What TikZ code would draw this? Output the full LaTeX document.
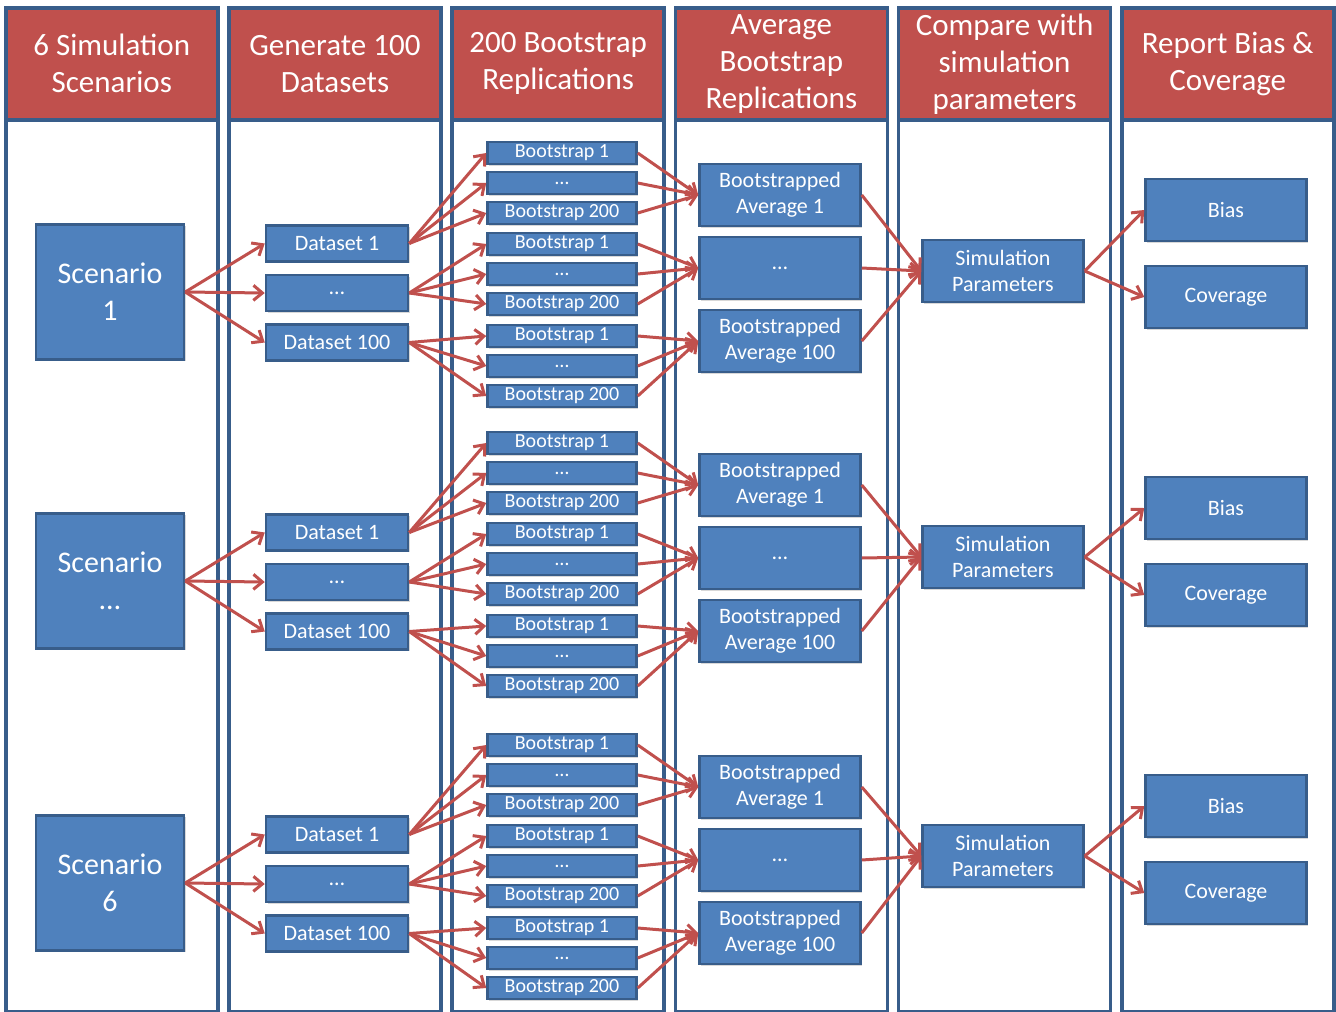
\documentclass[tikz,border=0pt]{standalone}
\usepackage{fontspec}
\setmainfont{Carlito}
\usetikzlibrary{arrows.meta, shadows}
\definecolor{hdred}{HTML}{C0504D}
\definecolor{boxblue}{HTML}{4F81BD}
\definecolor{edgeblue}{HTML}{385D8A}

\tikzset{
  blue box/.style = {draw = edgeblue, line width = 2.5pt, fill = boxblue,
    drop shadow = {shadow xshift = 1.5pt, shadow yshift = -1.5pt, opacity = 0.3}},
  scen/.style = {blue box, minimum width = 148pt, minimum height = 135pt, font = \fontsize{30}{37}\selectfont},
  data/.style = {blue box, minimum width = 142pt, minimum height = 36pt, font = \fontsize{22}{26}\selectfont},
  boot/.style = {blue box, minimum width = 149pt, minimum height = 22pt, font = \fontsize{20}{22}\selectfont},
  avg/.style = {blue box, minimum width = 161pt, minimum height = 62pt, font = \fontsize{22}{26}\selectfont},
  res/.style = {avg},
  conn/.style = {draw = hdred, line width = 3pt, -{Straight Barb[length = 9pt, width = 15pt]}}
}

\begin{document}
\begin{tikzpicture}[x = 1pt, y = -1pt, every node/.style = {text = white, align = center, inner sep = 0pt},
    colhead/.style = {draw = edgeblue, line width = 3.5pt, fill = hdred, anchor = north west,
      minimum width = 212pt, minimum height = 112pt, font = \fontsize{31}{37}\selectfont},
    colbody/.style = {draw = edgeblue, line width = 3.5pt, fill = white, anchor = north west,
      minimum width = 212pt, minimum height = 893pt}]
  \useasboundingbox (0, 0) rectangle (1336, 1012);
  % the six columns
  \foreach \i/\txt in {0/6 Simulation\\Scenarios, 1/Generate 100\\Datasets, 2/200 Bootstrap\\Replications,
      3/Average\\Bootstrap\\Replications, 4/Compare with\\simulation\\parameters, 5/Report Bias \&\\Coverage} {
    \node[colbody] (body\i) at ({4 + 223.2*\i}, 117) {};
    \node[colhead] (head\i) at ({4 + 223.2*\i}, 6) {\txt};
  }
  % one block per scenario
  \foreach \g/\sl/\ys/\yb/\ysim/\ybias in {1/1/292/152/271/210, 2/…/581/442/557/508, 3/6/883/744/856/806} {
    \node[scen] (sc\g) at (110, \ys) {Scenario\\\sl};
    \foreach \t/\dl in {1/Dataset 1, 2/…, 3/Dataset 100}
      \node[data] (ds\g-\t) at (337, {\ys + 49.5*(\t - 2) + 1}) {\dl};
    \foreach \t/\off in {1/0, 2/91, 3/183}
      \foreach \k/\bl in {1/Bootstrap 1, 2/…, 3/Bootstrap 200}
        \node[boot] (bt\g-\t-\k) at (562, {\yb + \off + 30*(\k - 1) + 1}) {\bl};
    \foreach \t/\al in {1/Bootstrapped\\Average 1, 2/…, 3/Bootstrapped\\Average 100}
      \node[avg] (av\g-\t) at (780, {\yb + 43 + 73*(\t - 1)}) {\al};
    \node[avg] (sp\g) at (1003, \ysim) {Simulation\\Parameters};
    \node[res] (bi\g) at (1226, \ybias) {Bias};
    \node[res] (cv\g) at (1226, {\ybias + 87}) {Coverage};
    % connectors
    \foreach \t in {1, 2, 3} {
      \draw[conn] (sc\g.east) -- (ds\g-\t.west);
      \foreach \k in {1, 2, 3} {
        \draw[conn] (ds\g-\t.east) -- (bt\g-\t-\k.west);
        \draw[conn] (bt\g-\t-\k.east) -- (av\g-\t.west);
      }
      \draw[conn] (av\g-\t.east) -- (sp\g.west);
    }
    \draw[conn] (sp\g.east) -- (bi\g.west);
    \draw[conn] (sp\g.east) -- (cv\g.west);
  }
\end{tikzpicture}
\end{document}
